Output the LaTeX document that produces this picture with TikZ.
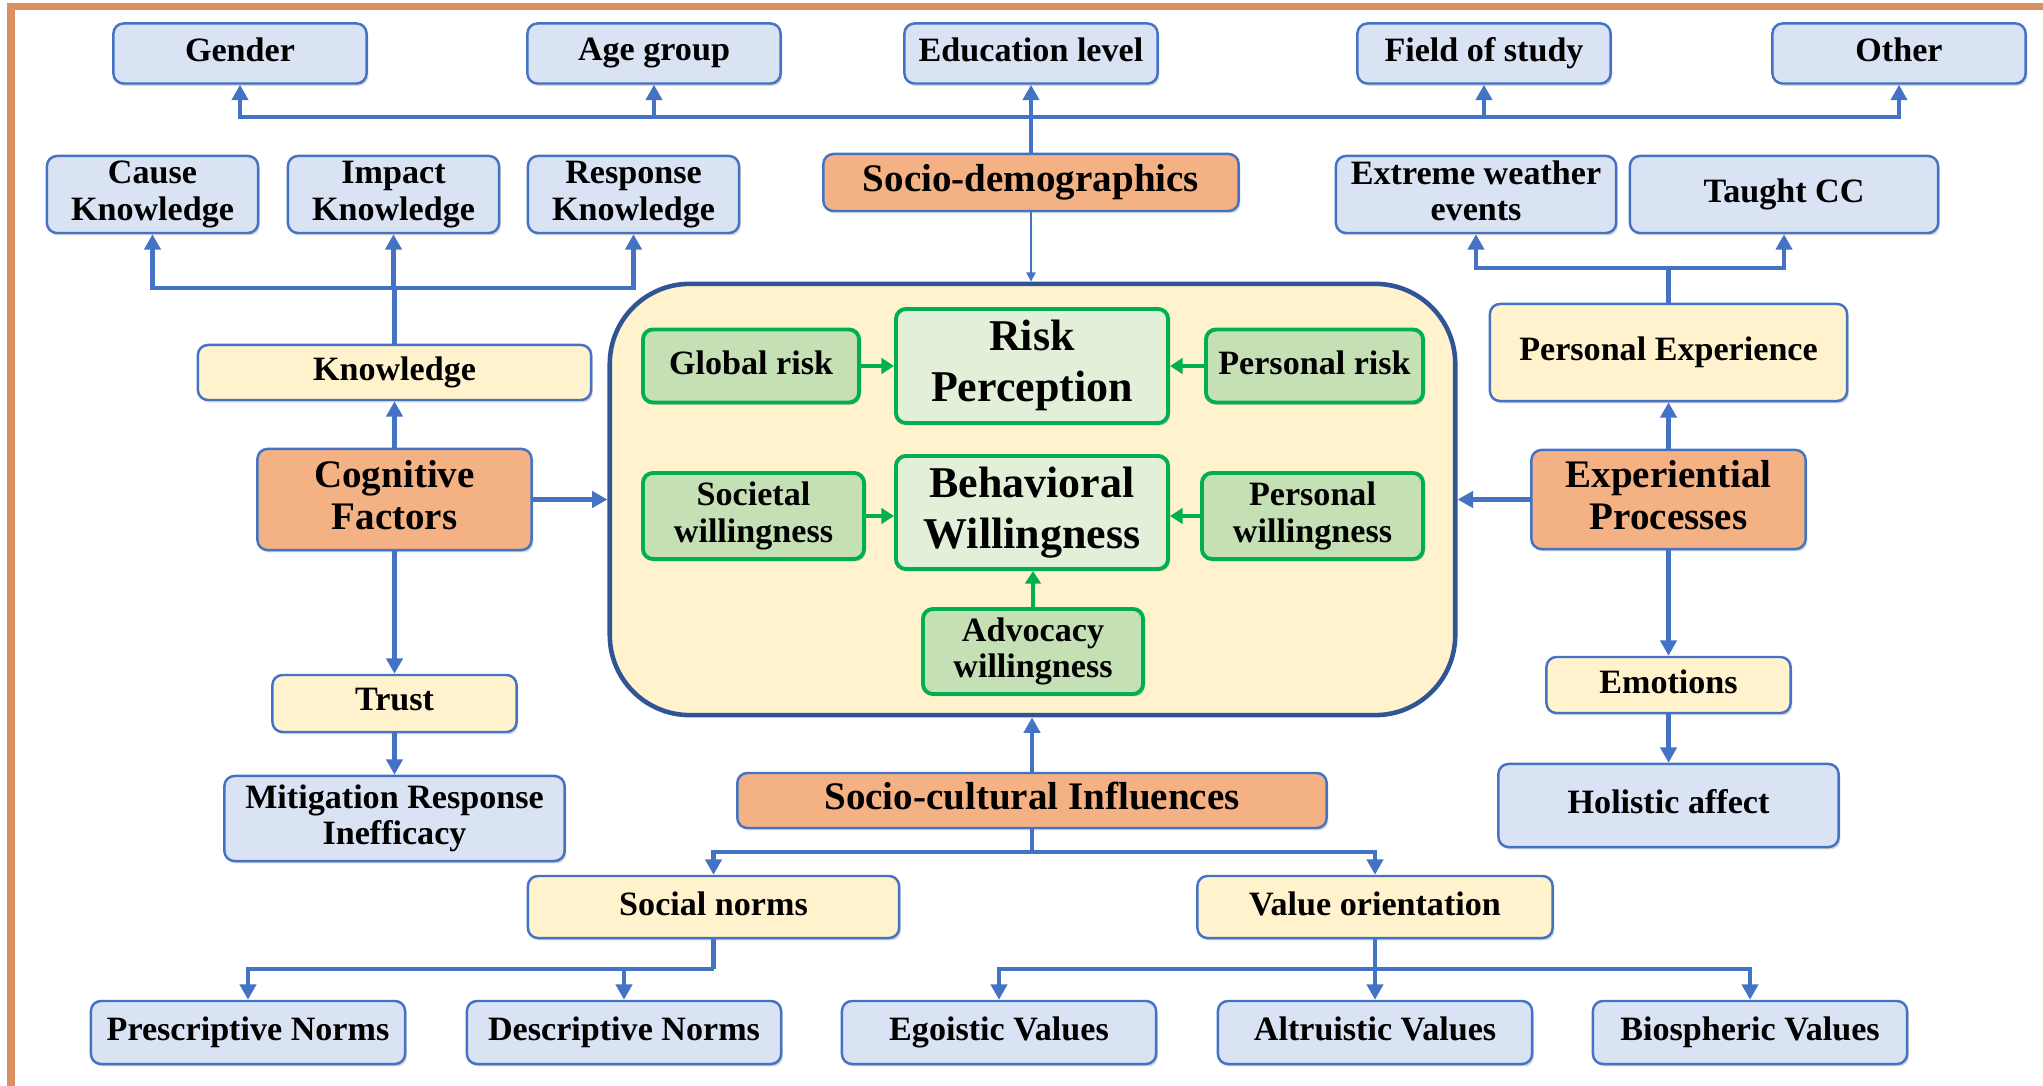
\documentclass[tikz,border=0pt]{standalone}
\usepackage{fontspec}
\setmainfont{Liberation Serif}
\usetikzlibrary{arrows.meta,shadows}

\definecolor{boxline}{HTML}{4472C4}
\definecolor{boxblue}{HTML}{DAE3F3}
\definecolor{boxcream}{HTML}{FFF2CC}
\definecolor{boxorange}{HTML}{F4B183}
\definecolor{greenline}{HTML}{00B050}
\definecolor{greenfill}{HTML}{C5E0B4}
\definecolor{corefill}{HTML}{E2F0D9}
\definecolor{bigline}{HTML}{2F5597}
\definecolor{frameline}{HTML}{D9925F}

\newcommand{\smallbf}{\fontsize{9.7}{10.4}\selectfont\bfseries}
\newcommand{\midbf}{\fontsize{11.1}{11.9}\selectfont\bfseries}
\newcommand{\largebf}{\fontsize{12.5}{14.5}\selectfont\bfseries}

\begin{document}
\begin{tikzpicture}[x=0.01cm, y=-0.01cm,
    box/.style={rectangle, rounded corners=0.1cm, draw=boxline, line width=0.7pt, align=center, inner sep=1pt, font=\smallbf,
        execute at begin node={\vphantom{Ag}}, execute at end node={\vphantom{g}},
        drop shadow={shadow xshift=0.5pt, shadow yshift=-0.7pt, opacity=0.3}},
    bluebox/.style={box, fill=boxblue},
    creambox/.style={box, fill=boxcream},
    orangebox/.style={box, fill=boxorange, font=\midbf},
    greenbox/.style={box, fill=greenfill, draw=greenline, line width=1.1pt},
    corebox/.style={greenbox, fill=corefill, font=\largebf},
    bigbox/.style={rectangle, rounded corners=0.8cm, draw=bigline, fill=boxcream, line width=1.3pt},
    conn/.style={draw=boxline, line width=1.2pt},
    arr/.style={conn, -{Triangle[width=4.6pt,length=4.4pt]}},
    thinarr/.style={draw=boxline, line width=0.45pt, -{Triangle[width=2.6pt,length=2.6pt]}},
    garr/.style={draw=greenline, line width=1.2pt, -{Triangle[width=4.4pt,length=3.6pt]}}]

    \useasboundingbox (0,0) rectangle (2043,1086);
    \draw[frameline, line width=0.07cm] (11,1086) -- (11,6.5) -- (2043,6.5);

    % Socio-demographics
    \node[bluebox, minimum width=2.53cm, minimum height=0.6cm] (gender) at (240,53.5) {Gender};
    \node[bluebox, minimum width=2.53cm, minimum height=0.6cm] (age) at (654,53.5) {Age group};
    \node[bluebox, minimum width=2.53cm, minimum height=0.6cm] (edu) at (1031,53.5) {Education level};
    \node[bluebox, minimum width=2.53cm, minimum height=0.6cm] (field) at (1484,53.5) {Field of study};
    \node[bluebox, minimum width=2.53cm, minimum height=0.6cm] (other) at (1899,53.5) {Other};
    \node[orangebox, minimum width=4.15cm, minimum height=0.57cm] (sdem) at (1031,182.5) {Socio-demographics};

    % Core box
    \node[bigbox, minimum width=8.45cm, minimum height=4.31cm] (core) at (1032.5,499.5) {};
    \node[greenbox, minimum width=2.16cm, minimum height=0.73cm] (global) at (751,366) {Global risk};
    \node[corebox, minimum width=2.72cm, minimum height=1.14cm] (riskp) at (1032,366) {Risk\\Perception};
    \node[greenbox, minimum width=2.17cm, minimum height=0.73cm] (prisk) at (1314.5,366) {Personal risk};
    \node[greenbox, minimum width=2.21cm, minimum height=0.86cm] (societal) at (753.5,516) {Societal\\willingness};
    \node[corebox, minimum width=2.72cm, minimum height=1.13cm] (behav) at (1032,512.5) {Behavioral\\Willingness};
    \node[greenbox, minimum width=2.21cm, minimum height=0.86cm] (pwill) at (1312.5,516) {Personal\\willingness};
    \node[greenbox, minimum width=2.2cm, minimum height=0.85cm] (advoc) at (1033,651.5) {Advocacy\\willingness};

    \draw[garr] (global.east) -- (global.east -| riskp.west);
    \draw[garr] (prisk.west) -- (prisk.west -| riskp.east);
    \draw[garr] (societal.east) -- (societal.east -| behav.west);
    \draw[garr] (pwill.west) -- (pwill.west -| behav.east);
    \draw[garr] (advoc.north) -- (advoc.north |- behav.south);

    % Cognitive factors
    \node[bluebox, minimum width=2.11cm, minimum height=0.77cm] (cause) at (152.5,194.5) {Cause\\Knowledge};
    \node[bluebox, minimum width=2.11cm, minimum height=0.77cm] (impact) at (393.5,194.5) {Impact\\Knowledge};
    \node[bluebox, minimum width=2.11cm, minimum height=0.77cm] (response) at (633.5,194.5) {Response\\Knowledge};
    \node[creambox, minimum width=3.93cm, minimum height=0.55cm] (know) at (394.5,372.5) {Knowledge};
    \node[orangebox, minimum width=2.74cm, minimum height=1.01cm] (cog) at (394.5,499.5) {Cognitive\\Factors};
    \node[creambox, minimum width=2.44cm, minimum height=0.57cm] (trust) at (394.5,703.5) {Trust};
    \node[bluebox, minimum width=3.4cm, minimum height=0.85cm] (mitig) at (394.5,818.5) {Mitigation Response\\Inefficacy};

    % Experiential processes
    \node[bluebox, minimum width=2.8cm, minimum height=0.77cm] (extreme) at (1476,194.5) {Extreme weather\\events};
    \node[bluebox, minimum width=3.08cm, minimum height=0.77cm] (taught) at (1784,194.5) {Taught CC};
    \node[creambox, minimum width=3.57cm, minimum height=0.97cm] (pexp) at (1668.5,352.5) {Personal Experience};
    \node[orangebox, minimum width=2.74cm, minimum height=0.99cm] (exp) at (1668.5,499.5) {Experiential\\Processes};
    \node[creambox, minimum width=2.44cm, minimum height=0.56cm] (emot) at (1668.5,685) {Emotions};
    \node[bluebox, minimum width=3.4cm, minimum height=0.83cm] (holist) at (1668.5,805.5) {Holistic affect};

    % Socio-cultural influences
    \node[orangebox, minimum width=5.89cm, minimum height=0.55cm] (scult) at (1032,800.5) {Socio-cultural Influences};
    \node[creambox, minimum width=3.71cm, minimum height=0.62cm] (snorm) at (713.5,907) {Social norms};
    \node[creambox, minimum width=3.55cm, minimum height=0.62cm] (vorient) at (1375,907) {Value orientation};
    \node[bluebox, minimum width=3.14cm, minimum height=0.63cm] (presc) at (248,1032.5) {Prescriptive Norms};
    \node[bluebox, minimum width=3.14cm, minimum height=0.63cm] (descr) at (624,1032.5) {Descriptive Norms};
    \node[bluebox, minimum width=3.14cm, minimum height=0.63cm] (ego) at (999,1032.5) {Egoistic Values};
    \node[bluebox, minimum width=3.14cm, minimum height=0.63cm] (altru) at (1375,1032.5) {Altruistic Values};
    \node[bluebox, minimum width=3.14cm, minimum height=0.63cm] (bio) at (1750,1032.5) {Biospheric Values};

    % connectors
    \coordinate (topbus) at (1031,117);
    \draw[conn] (sdem.north) -- (topbus);
    \foreach \n in {gender,age,edu,field,other}
        \draw[arr] (topbus) -| (\n.south);
    \draw[thinarr] (sdem.south) -- (sdem.south |- core.north);

    \coordinate (kbus) at (394.5,288);
    \draw[conn] (know.north) -- (kbus);
    \foreach \n in {cause,impact,response}
        \draw[arr] (kbus) -| (\n.south);
    \draw[arr] (cog.north) -- (know.south);
    \draw[arr] (cog.east) -- (cog.east -| core.west);
    \draw[arr] (cog.south) -- (trust.north);
    \draw[arr] (trust.south) -- (mitig.north);

    \coordinate (ebus) at (1668.5,268);
    \draw[conn] (pexp.north) -- (ebus);
    \foreach \n in {extreme,taught}
        \draw[arr] (ebus) -| (\n.south);
    \draw[arr] (exp.north) -- (pexp.south);
    \draw[arr] (exp.west) -- (exp.west -| core.east);
    \draw[arr] (exp.south) -- (emot.north);
    \draw[arr] (emot.south) -- (holist.north);

    \draw[arr] (scult.north) -- (scult.north |- core.south);
    \coordinate (sbus) at (1032,852);
    \draw[conn] (scult.south) -- (sbus);
    \draw[arr] (sbus) -| (snorm.north);
    \draw[arr] (sbus) -| (vorient.north);
    \coordinate (nbus) at (713.5,969);
    \draw[conn] (snorm.south) -- (nbus);
    \foreach \n in {presc,descr}
        \draw[arr] (nbus) -| (\n.north);
    \coordinate (vbus) at (1375,969);
    \draw[conn] (vorient.south) -- (vbus);
    \foreach \n in {ego,altru,bio}
        \draw[arr] (vbus) -| (\n.north);
\end{tikzpicture}
\end{document}
